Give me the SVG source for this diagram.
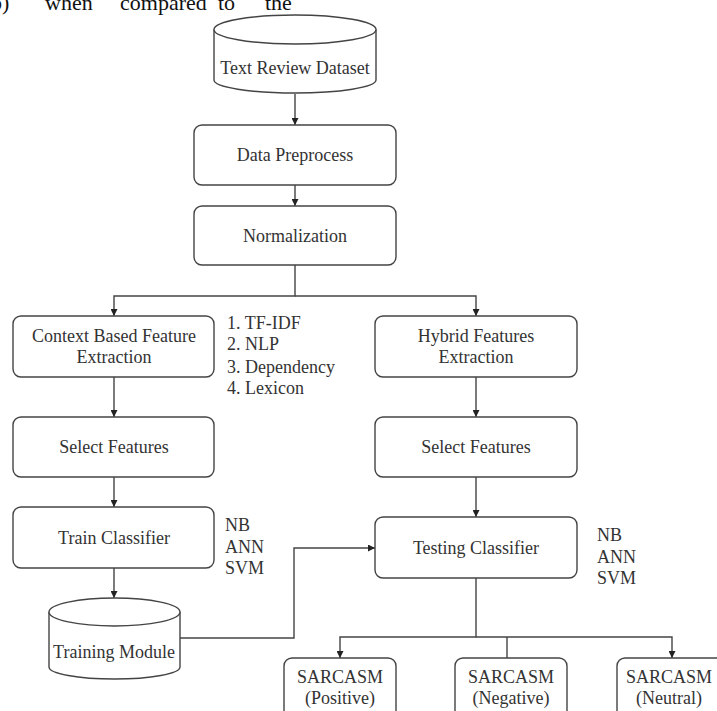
<svg xmlns="http://www.w3.org/2000/svg" width="717" height="711" viewBox="0 0 717 711">
<defs>
<style>
.box{fill:#fff;stroke:#444;stroke-width:1.4}
.t{font-family:"Liberation Serif","Times New Roman",serif;font-size:18px;fill:#333;text-anchor:middle}
.l{font-family:"Liberation Serif","Times New Roman",serif;font-size:18px;fill:#333}
.hdr{font-family:"Liberation Serif","Times New Roman",serif;font-size:22px;fill:#111}
.c{fill:none;stroke:#444;stroke-width:1.4}
</style>
<marker id="ah" viewBox="0 0 10 10" refX="10" refY="5" markerWidth="7" markerHeight="7" markerUnits="userSpaceOnUse" orient="auto">
<path d="M0,0 L10,5 L0,10 z" fill="#222"/>
</marker>
</defs>
<rect width="717" height="711" fill="#fff"/>
<g id="header-text">
<text class="hdr" x="-9" y="10">b)</text>
<text class="hdr" x="45" y="10">when</text>
<text class="hdr" x="120" y="10">compared</text>
<text class="hdr" x="218" y="10">to</text>
<text class="hdr" x="265" y="10">the</text>
</g>
<g id="connectors">
<path class="c" d="M295,94 V125" marker-end="url(#ah)"/>
<path class="c" d="M295,185 V206" marker-end="url(#ah)"/>
<path class="c" d="M295,265 V296 H114 V316" marker-end="url(#ah)"/>
<path class="c" d="M295,296 H476 V316" marker-end="url(#ah)"/>
<path class="c" d="M114,377 V417" marker-end="url(#ah)"/>
<path class="c" d="M476,377 V417" marker-end="url(#ah)"/>
<path class="c" d="M114,477 V507" marker-end="url(#ah)"/>
<path class="c" d="M476,477 V517" marker-end="url(#ah)"/>
<path class="c" d="M114,568 V598" marker-end="url(#ah)"/>
<path class="c" d="M180,638 H294 V548 H375" marker-end="url(#ah)"/>
<path class="c" d="M476,578 V637 H340 V658" marker-end="url(#ah)"/>
<path class="c" d="M476,637 H672 V658" marker-end="url(#ah)"/>
<path class="c" d="M507,637 V658"/>
</g>
<g id="text-review-dataset">
<path class="box" d="M214,29.5 V80 A81,13 0 0 0 376,80 V29.5"/>
<ellipse class="box" cx="295" cy="29.5" rx="81" ry="14.5"/>
<text class="t" x="295" y="74">Text Review Dataset</text>
</g>
<g id="data-preprocess">
<rect class="box" x="194" y="125" width="202" height="60" rx="8"/>
<text class="t" x="295" y="161">Data Preprocess</text>
</g>
<g id="normalization">
<rect class="box" x="194" y="206" width="202" height="59" rx="8"/>
<text class="t" x="295" y="242">Normalization</text>
</g>
<g id="context-extraction">
<rect class="box" x="13" y="316" width="201" height="61" rx="8"/>
<text class="t" x="114" y="342">Context Based Feature</text>
<text class="t" x="114" y="363">Extraction</text>
</g>
<g id="feature-list">
<text class="l" x="227" y="329">1. TF-IDF</text>
<text class="l" x="227" y="350">2. NLP</text>
<text class="l" x="227" y="373">3. Dependency</text>
<text class="l" x="227" y="394">4. Lexicon</text>
</g>
<g id="hybrid-extraction">
<rect class="box" x="375" y="316" width="202" height="61" rx="8"/>
<text class="t" x="476" y="342">Hybrid Features</text>
<text class="t" x="476" y="363">Extraction</text>
</g>
<g id="select-features-left">
<rect class="box" x="13" y="417" width="201" height="60" rx="8"/>
<text class="t" x="114" y="453">Select Features</text>
</g>
<g id="select-features-right">
<rect class="box" x="375" y="417" width="202" height="60" rx="8"/>
<text class="t" x="476" y="453">Select Features</text>
</g>
<g id="train-classifier">
<rect class="box" x="13" y="507" width="201" height="61" rx="8"/>
<text class="t" x="114" y="544">Train Classifier</text>
</g>
<g id="train-algos">
<text class="l" x="225" y="531">NB</text>
<text class="l" x="225" y="553">ANN</text>
<text class="l" x="225" y="574">SVM</text>
</g>
<g id="testing-classifier">
<rect class="box" x="375" y="517" width="202" height="61" rx="8"/>
<text class="t" x="476" y="554">Testing Classifier</text>
</g>
<g id="test-algos">
<text class="l" x="597" y="541">NB</text>
<text class="l" x="597" y="563">ANN</text>
<text class="l" x="597" y="584">SVM</text>
</g>
<g id="training-module">
<path class="box" d="M49,612 V667 A65.5,12 0 0 0 180,667 V612"/>
<ellipse class="box" cx="114.5" cy="612" rx="65.5" ry="14"/>
<text class="t" x="114" y="658">Training Module</text>
</g>
<g id="sarcasm-positive">
<rect class="box" x="284" y="658" width="112" height="70" rx="8"/>
<text class="t" x="340" y="683">SARCASM</text>
<text class="t" x="340" y="704">(Positive)</text>
</g>
<g id="sarcasm-negative">
<rect class="box" x="455" y="658" width="112" height="70" rx="8"/>
<text class="t" x="511" y="683">SARCASM</text>
<text class="t" x="511" y="704">(Negative)</text>
</g>
<g id="sarcasm-neutral">
<rect class="box" x="617" y="658" width="112" height="70" rx="8"/>
<text class="t" x="669" y="683">SARCASM</text>
<text class="t" x="669" y="704">(Neutral)</text>
</g>
</svg>
